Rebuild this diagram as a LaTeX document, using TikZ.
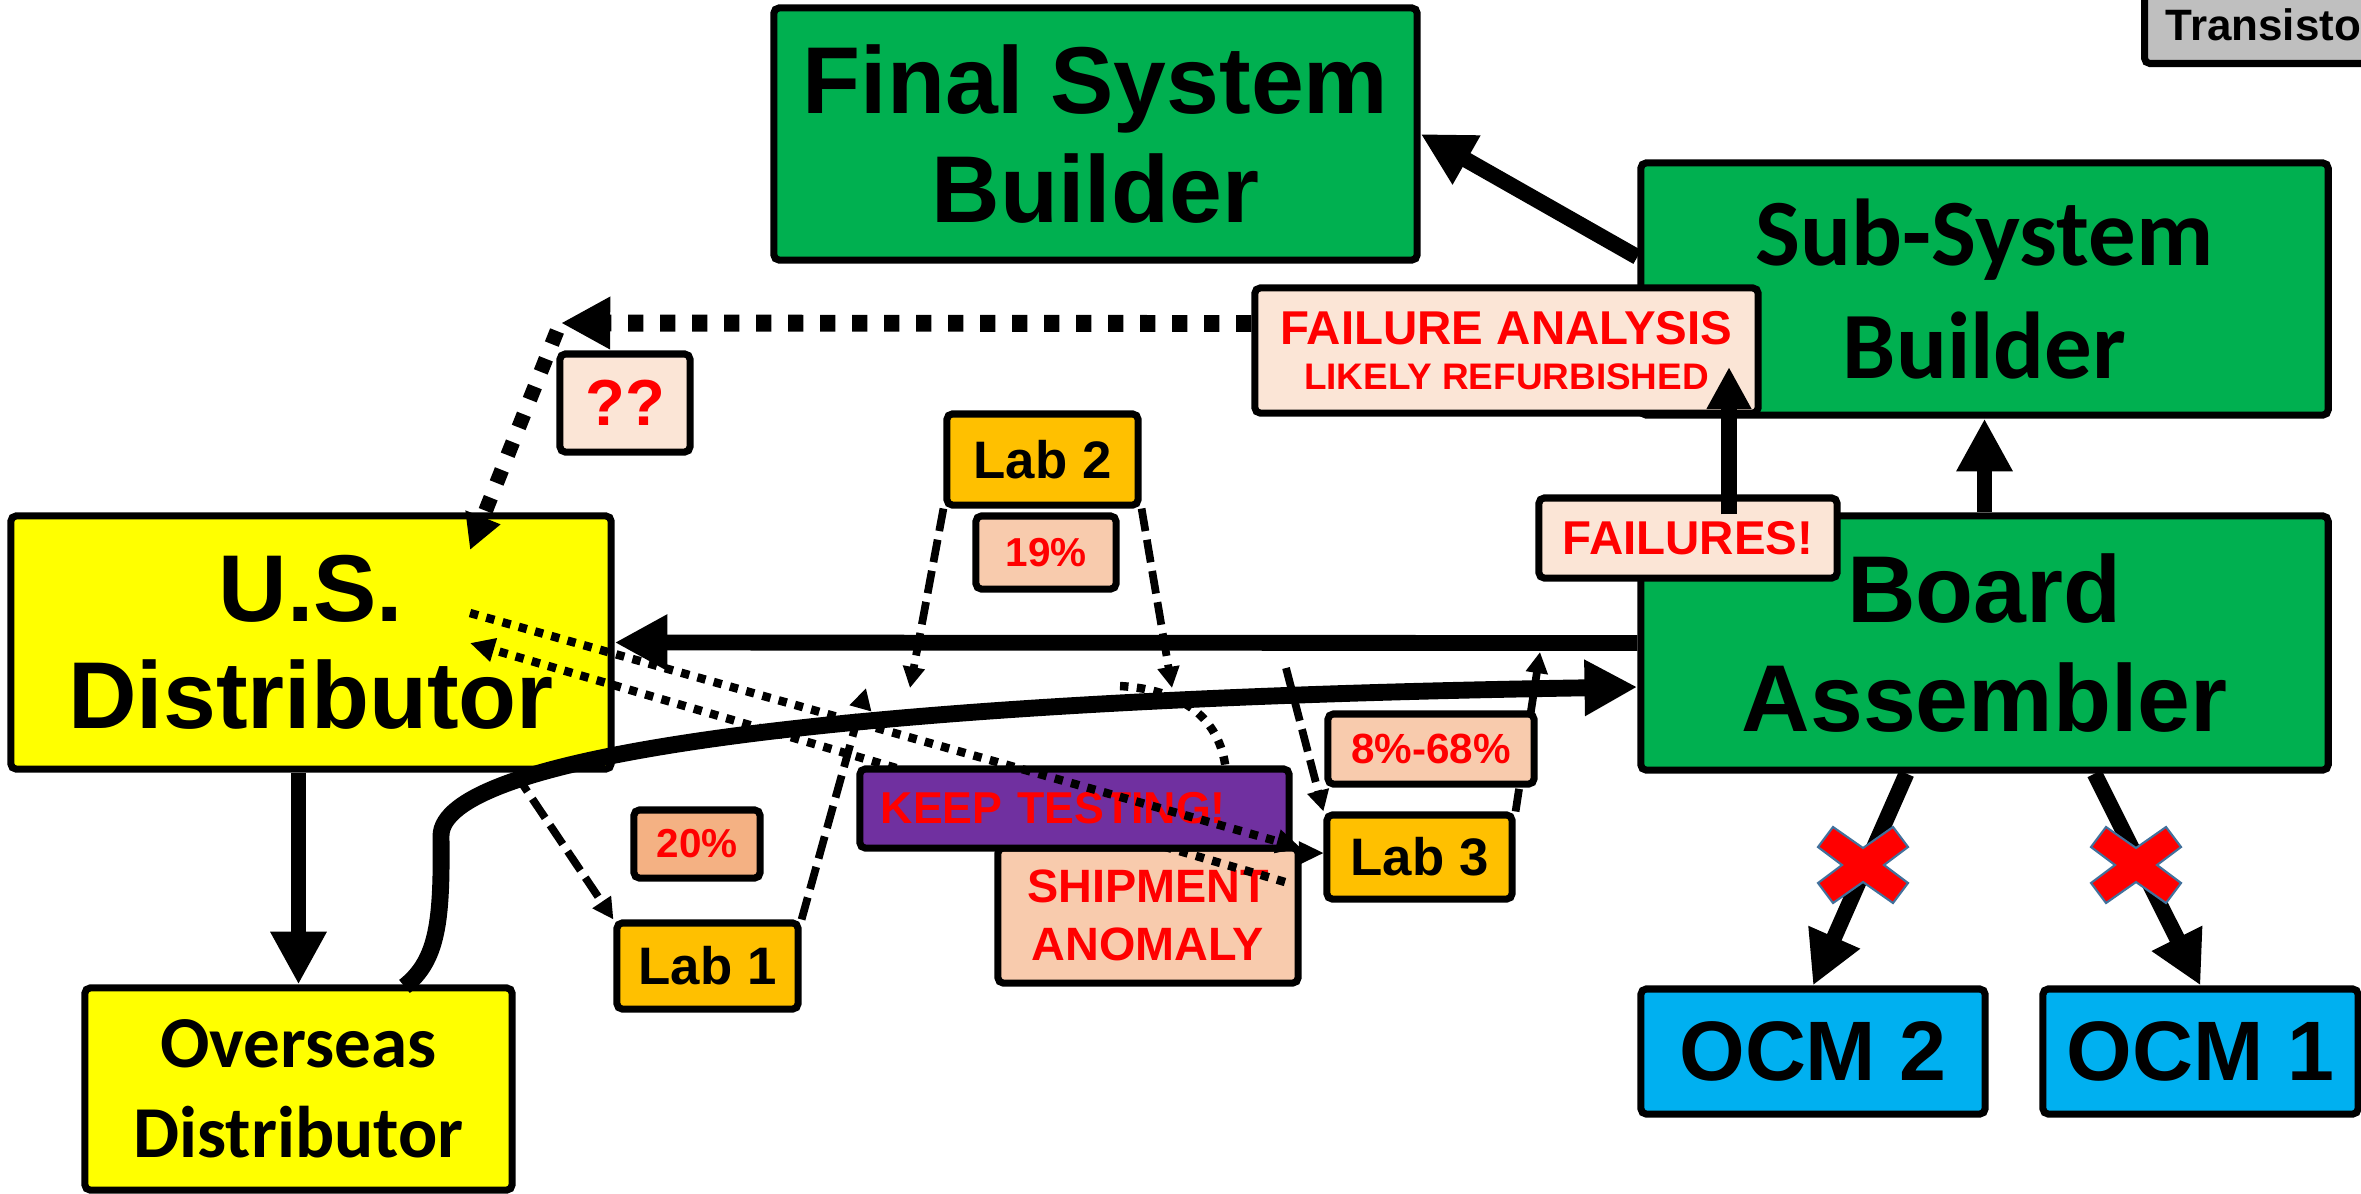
\documentclass[tikz,border=0pt]{standalone}
\usepackage{fontspec}
\setmainfont{Liberation Sans}
\newfontfamily\calibrifont{Carlito}
\usetikzlibrary{arrows.meta, positioning, calc}
\definecolor{boxgreen}{RGB}{0,176,80}
\definecolor{distyellow}{RGB}{255,255,0}
\definecolor{labgold}{RGB}{255,192,0}
\definecolor{ocmblue}{RGB}{0,176,240}
\definecolor{notepeach}{RGB}{251,229,214}
\definecolor{pctpeach}{RGB}{248,203,173}
\definecolor{pctsalmon}{RGB}{244,177,131}
\definecolor{keeppurple}{RGB}{112,48,160}
\definecolor{alertred}{RGB}{255,0,0}
\definecolor{xborder}{RGB}{65,113,156}
\definecolor{taggray}{RGB}{191,191,191}

\newcommand{\redcross}[1]{%
  \filldraw[fill=alertred, draw=xborder, line width=0.6pt, shift={#1}]
    (-30,-38) -- (0,-17) -- (30,-38) -- (45,-18) -- (21,0) -- (45,18) --
    (30,38) -- (0,17) -- (-30,38) -- (-45,18) -- (-21,0) -- (-45,-18) -- cycle;}

\begin{document}
\begin{tikzpicture}[
  x=0.01cm, y=-0.01cm,
  block/.style={rectangle, rounded corners=1.5pt, draw=black, line width=2pt,
                inner sep=0pt, align=center},
  party/.style={block, fill=boxgreen, font=\bfseries\fontsize{27}{31}\selectfont},
  dist/.style={block, fill=distyellow},
  lab/.style={block, fill=labgold, font=\bfseries\fontsize{15}{18}\selectfont},
  note/.style={block, fill=notepeach, text=alertred},
  pct/.style={block, fill=pctpeach, text=alertred, font=\bfseries\fontsize{11.5}{14}\selectfont},
  ocm/.style={block, fill=ocmblue, font=\bfseries\fontsize{24}{28}\selectfont},
  flow/.style={line width=4.5pt, -{Triangle[length=15pt,width=15pt]}},
  labflow/.style={line width=2.2pt, dash pattern=on 6.5pt off 2.5pt, -{Triangle[length=6pt,width=6pt]}},
  retline/.style={line width=2.4pt, dash pattern=on 2.4pt off 2.4pt},
  retflow/.style={retline, -{Triangle[length=7pt,width=6.5pt]}},
  faflow/.style={line width=4.8pt, dash pattern=on 4.3pt off 4.8pt, -{Triangle[length=14pt,width=14pt]}},
  qflow/.style={line width=4.2pt, dash pattern=on 4pt off 4.5pt, -{Triangle[length=10pt,width=10pt]}}
]
  \useasboundingbox (0,0) rectangle (2361,1193);

  \node[block, fill=taggray, anchor=south west, minimum height=0.77cm, inner xsep=0.21cm,
        font=\bfseries\fontsize{12.5}{15}\selectfont] (trans) at (2141,67) {Transistor};

  \node[party, minimum width=6.43cm, minimum height=2.52cm] (fsb) at (1095.5,134) {Final System\\Builder};
  \node[party, font=\calibrifont\bfseries\fontsize{27}{32}\selectfont,
        minimum width=6.87cm, minimum height=2.52cm] (ssb) at (1984.5,289) {Sub-System\\Builder};
  \node[party, minimum width=6.87cm, minimum height=2.54cm] (ba) at (1984.5,643) {Board\\Assembler};
  \node[dist, font=\bfseries\fontsize{27}{30.5}\selectfont,
        minimum width=6cm, minimum height=2.53cm] (usd) at (311,642.5) {U.S.\\Distributor};
  \node[dist, font=\calibrifont\bfseries\fontsize{20.8}{25.6}\selectfont,
        minimum width=4.27cm, minimum height=2.02cm] (osd) at (298.5,1089) {Overseas\\Distributor};

  \node[note, font=\bfseries\fontsize{13.5}{13}\selectfont, minimum width=5.03cm, minimum height=1.25cm]
    (fa) at (1506.5,350.5) {FAILURE ANALYSIS\\{\fontsize{10.5}{13}\selectfont LIKELY REFURBISHED}};
  \node[note, font=\bfseries\fontsize{18.5}{20}\selectfont, minimum width=1.3cm, minimum height=0.98cm]
    (qq) at (625,403) {??};
  \node[lab, minimum width=1.91cm, minimum height=0.91cm] (lab2) at (1042.5,459.5) {Lab 2};
  \node[pct, minimum width=1.4cm, minimum height=0.73cm] (p19) at (1046,552.5) {19\%};
  \node[note, font=\bfseries\fontsize{13.5}{16}\selectfont, minimum width=2.98cm, minimum height=0.8cm]
    (fails) at (1688,538) {FAILURES!};
  \node[pct, fill=pctsalmon, minimum width=1.26cm, minimum height=0.68cm] (p20) at (697,844) {20\%};
  \node[lab, minimum width=1.81cm, minimum height=0.86cm] (lab1) at (707.5,966) {Lab 1};
  \node[lab, minimum width=1.85cm, minimum height=0.84cm] (lab3) at (1419.5,857) {Lab 3};
  \node[pct, font=\bfseries\fontsize{13.3}{16.3}\selectfont, minimum width=3cm, minimum height=1.35cm]
    (ship) at (1148,915.5) {SHIPMENT\\ANOMALY};
  \node[ocm, minimum width=3.44cm, minimum height=1.25cm] (ocm2) at (1813,1051.5) {OCM 2};
  \node[ocm, minimum width=3.15cm, minimum height=1.25cm] (ocm1) at (2200.5,1051.5) {OCM 1};

  % lab sampling
  \coordinate (l2left) at (910,688);
  \coordinate (l2right) at (1172,688);
  \coordinate (l1up) at (866,688);
  \coordinate (l3from) at (1286,668);
  \coordinate (l3up) at (1540,652);
  \draw[labflow] (lab2.south west) -- (l2left);
  \draw[labflow] (lab2.south east) -- (l2right);
  \draw[labflow] ($(usd.south east)+(-100,0)$) -- (lab1.north west);
  \draw[labflow] (lab1.north east) -- (l1up);
  \draw[labflow] (l3from) -- (lab3.north west);
  \draw[labflow] (lab3.north east) -- (l3up);

  % returns
  \coordinate (arcfrom) at (1120,686);
  \coordinate (shipdot) at (1285,882);
  \coordinate (usdlow) at (470,643);
  \draw[retline] (arcfrom) .. controls (1190,690) and (1222,725) .. (1226,772);
  \draw[retflow] (shipdot) -- (usdlow);

  \node[block, fill=keeppurple, text=alertred, font=\bfseries\fontsize{12.7}{15}\selectfont,
        text width=3.87cm, inner xsep=0.21cm, align=left, minimum height=0.79cm]
    (keep) at (1074.5,808.5) {KEEP TESTING!};
  \node[pct, font=\bfseries\fontsize{12}{14}\selectfont, minimum width=2.06cm, minimum height=0.7cm]
    (p868) at (1431,749) {8\%-68\%};

  \coordinate (usdhigh) at (470,613);
  \coordinate (keepend) at (1301,848);
  \coordinate (shipout) at (1302,853);
  \draw[retflow] (usdhigh) -- (keepend);
  \draw[line width=1pt, -{Triangle[length=7pt,width=6.5pt]}] (shipout) -- (shipout -| lab3.west);

  % supply chain
  \draw[flow] (ba.west) -- (usd.east);
  \draw[flow] (ba) -- (ssb);
  \draw[flow] ($(ssb.west)+(0,-32)$) -- (fsb.east);
  \draw[flow] (usd.south -| osd.north) -- (osd.north);
  \draw[flow] ($(ba.south)+(-78,0)$) -- (ocm2.north);
  \draw[flow] ($(ba.south)+(110,0)$) -- (ocm1.north);
  \draw[flow, line width=4.8pt] ($(osd.north)+(106,2)$) .. controls (438,960) and (442,920) .. (441,836)
    .. controls (441,760) and (800,700) .. ($(ba.west)+(0,44)$);

  % failures
  \coordinate (fain) at (1729,367);
  \draw[line width=4.5pt, -{Triangle[length=12pt,width=12pt]}] ($(fails.north)+(41,20)$) -- (fain);
  \coordinate (qtip) at (561,323);
  \coordinate (usdtop) at (470,550);
  \draw[faflow] ($(fa.west)+(0,-27)$) -- (qtip);
  \draw[qflow] ($(qtip)+(-4,8)$) -- (usdtop);

  \redcross{(1863,865)}
  \redcross{(2136,865)}
\end{tikzpicture}
\end{document}
